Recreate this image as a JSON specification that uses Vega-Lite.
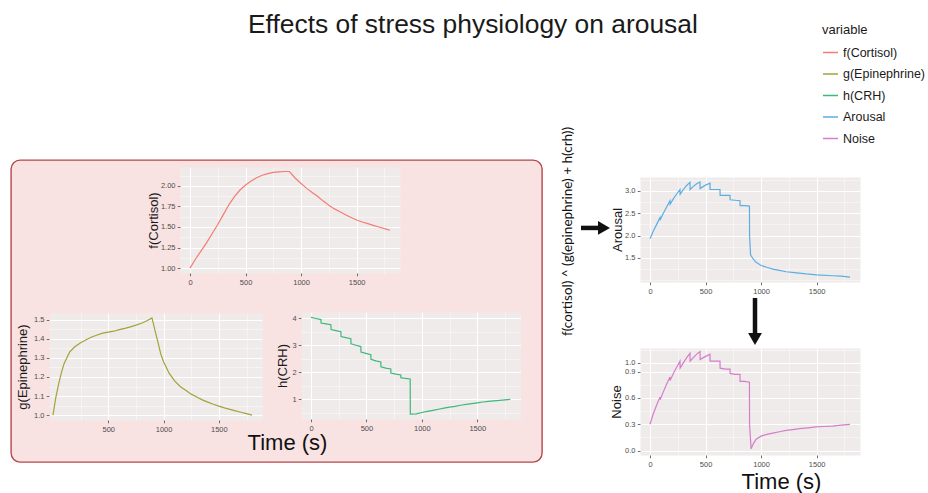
{
"$schema": "https://vega.github.io/schema/vega-lite/v6.json",
"width": 531, "height": 302,
"autosize": {"type": "none"},
"padding": {"left": 11, "top": 160, "right": 386, "bottom": 31},
"background": "#FFFFFF",
"view": {"fill": "#F9E2E2", "stroke": "#B5474B", "strokeWidth": 1.4, "cornerRadius": 9},
"title": {"text": "Effects of stress physiology on arousal", "anchor": "start", "frame": "group", "dx": 237, "offset": -14, "fontSize": 26.4, "font": "Liberation Sans", "fontWeight": "normal", "color": "#1A1A1A"},
"data": {"values": [
{"variable":"f(Cortisol)","t":0,"v":1.0},{"variable":"f(Cortisol)","t":50,"v":1.11},{"variable":"f(Cortisol)","t":100,"v":1.21},{"variable":"f(Cortisol)","t":150,"v":1.31},{"variable":"f(Cortisol)","t":200,"v":1.42},{"variable":"f(Cortisol)","t":250,"v":1.53},{"variable":"f(Cortisol)","t":300,"v":1.65},{"variable":"f(Cortisol)","t":350,"v":1.77},{"variable":"f(Cortisol)","t":400,"v":1.87},{"variable":"f(Cortisol)","t":450,"v":1.95},{"variable":"f(Cortisol)","t":500,"v":2.01},{"variable":"f(Cortisol)","t":550,"v":2.06},{"variable":"f(Cortisol)","t":600,"v":2.1},{"variable":"f(Cortisol)","t":650,"v":2.13},{"variable":"f(Cortisol)","t":700,"v":2.15},{"variable":"f(Cortisol)","t":750,"v":2.165},{"variable":"f(Cortisol)","t":800,"v":2.17},{"variable":"f(Cortisol)","t":850,"v":2.175},{"variable":"f(Cortisol)","t":895,"v":2.175},{"variable":"f(Cortisol)","t":950,"v":2.09},{"variable":"f(Cortisol)","t":1000,"v":2.03},{"variable":"f(Cortisol)","t":1050,"v":1.97},{"variable":"f(Cortisol)","t":1100,"v":1.92},{"variable":"f(Cortisol)","t":1150,"v":1.87},{"variable":"f(Cortisol)","t":1200,"v":1.815},{"variable":"f(Cortisol)","t":1250,"v":1.765},{"variable":"f(Cortisol)","t":1300,"v":1.72},{"variable":"f(Cortisol)","t":1350,"v":1.685},{"variable":"f(Cortisol)","t":1400,"v":1.65},{"variable":"f(Cortisol)","t":1450,"v":1.615},{"variable":"f(Cortisol)","t":1500,"v":1.585},{"variable":"f(Cortisol)","t":1550,"v":1.56},{"variable":"f(Cortisol)","t":1600,"v":1.54},{"variable":"f(Cortisol)","t":1650,"v":1.52},{"variable":"f(Cortisol)","t":1700,"v":1.5},{"variable":"f(Cortisol)","t":1750,"v":1.48},{"variable":"f(Cortisol)","t":1800,"v":1.46},
{"variable":"g(Epinephrine)","t":0,"v":1.0},{"variable":"g(Epinephrine)","t":25,"v":1.09},{"variable":"g(Epinephrine)","t":50,"v":1.16},{"variable":"g(Epinephrine)","t":75,"v":1.22},{"variable":"g(Epinephrine)","t":100,"v":1.27},{"variable":"g(Epinephrine)","t":150,"v":1.33},{"variable":"g(Epinephrine)","t":200,"v":1.36},{"variable":"g(Epinephrine)","t":250,"v":1.38},{"variable":"g(Epinephrine)","t":300,"v":1.395},{"variable":"g(Epinephrine)","t":350,"v":1.41},{"variable":"g(Epinephrine)","t":400,"v":1.42},{"variable":"g(Epinephrine)","t":450,"v":1.43},{"variable":"g(Epinephrine)","t":500,"v":1.435},{"variable":"g(Epinephrine)","t":550,"v":1.44},{"variable":"g(Epinephrine)","t":600,"v":1.448},{"variable":"g(Epinephrine)","t":650,"v":1.455},{"variable":"g(Epinephrine)","t":700,"v":1.463},{"variable":"g(Epinephrine)","t":750,"v":1.472},{"variable":"g(Epinephrine)","t":800,"v":1.482},{"variable":"g(Epinephrine)","t":850,"v":1.495},{"variable":"g(Epinephrine)","t":895,"v":1.51},{"variable":"g(Epinephrine)","t":920,"v":1.45},{"variable":"g(Epinephrine)","t":950,"v":1.38},{"variable":"g(Epinephrine)","t":975,"v":1.32},{"variable":"g(Epinephrine)","t":1000,"v":1.28},{"variable":"g(Epinephrine)","t":1050,"v":1.22},{"variable":"g(Epinephrine)","t":1100,"v":1.18},{"variable":"g(Epinephrine)","t":1150,"v":1.15},{"variable":"g(Epinephrine)","t":1200,"v":1.13},{"variable":"g(Epinephrine)","t":1250,"v":1.11},{"variable":"g(Epinephrine)","t":1300,"v":1.095},{"variable":"g(Epinephrine)","t":1350,"v":1.08},{"variable":"g(Epinephrine)","t":1400,"v":1.068},{"variable":"g(Epinephrine)","t":1450,"v":1.057},{"variable":"g(Epinephrine)","t":1500,"v":1.047},{"variable":"g(Epinephrine)","t":1550,"v":1.038},{"variable":"g(Epinephrine)","t":1600,"v":1.03},{"variable":"g(Epinephrine)","t":1650,"v":1.022},{"variable":"g(Epinephrine)","t":1700,"v":1.015},{"variable":"g(Epinephrine)","t":1750,"v":1.008},{"variable":"g(Epinephrine)","t":1800,"v":1.0},
{"variable":"h(CRH)","t":0,"v":4.03},{"variable":"h(CRH)","t":45,"v":3.99},{"variable":"h(CRH)","t":90,"v":3.95},{"variable":"h(CRH)","t":91,"v":3.82},{"variable":"h(CRH)","t":135,"v":3.79},{"variable":"h(CRH)","t":180,"v":3.76},{"variable":"h(CRH)","t":181,"v":3.58},{"variable":"h(CRH)","t":225,"v":3.54},{"variable":"h(CRH)","t":270,"v":3.5},{"variable":"h(CRH)","t":271,"v":3.32},{"variable":"h(CRH)","t":315,"v":3.28},{"variable":"h(CRH)","t":360,"v":3.24},{"variable":"h(CRH)","t":361,"v":3.05},{"variable":"h(CRH)","t":405,"v":3.0},{"variable":"h(CRH)","t":450,"v":2.95},{"variable":"h(CRH)","t":451,"v":2.75},{"variable":"h(CRH)","t":495,"v":2.7},{"variable":"h(CRH)","t":540,"v":2.65},{"variable":"h(CRH)","t":541,"v":2.48},{"variable":"h(CRH)","t":585,"v":2.42},{"variable":"h(CRH)","t":630,"v":2.38},{"variable":"h(CRH)","t":631,"v":2.2},{"variable":"h(CRH)","t":675,"v":2.15},{"variable":"h(CRH)","t":720,"v":2.12},{"variable":"h(CRH)","t":721,"v":1.97},{"variable":"h(CRH)","t":765,"v":1.93},{"variable":"h(CRH)","t":810,"v":1.9},{"variable":"h(CRH)","t":811,"v":1.8},{"variable":"h(CRH)","t":850,"v":1.77},{"variable":"h(CRH)","t":895,"v":1.75},{"variable":"h(CRH)","t":896,"v":0.45},{"variable":"h(CRH)","t":950,"v":0.46},{"variable":"h(CRH)","t":1000,"v":0.51},{"variable":"h(CRH)","t":1050,"v":0.55},{"variable":"h(CRH)","t":1100,"v":0.59},{"variable":"h(CRH)","t":1150,"v":0.63},{"variable":"h(CRH)","t":1200,"v":0.67},{"variable":"h(CRH)","t":1250,"v":0.71},{"variable":"h(CRH)","t":1300,"v":0.74},{"variable":"h(CRH)","t":1350,"v":0.78},{"variable":"h(CRH)","t":1400,"v":0.81},{"variable":"h(CRH)","t":1450,"v":0.84},{"variable":"h(CRH)","t":1500,"v":0.87},{"variable":"h(CRH)","t":1550,"v":0.9},{"variable":"h(CRH)","t":1600,"v":0.92},{"variable":"h(CRH)","t":1650,"v":0.94},{"variable":"h(CRH)","t":1700,"v":0.96},{"variable":"h(CRH)","t":1750,"v":0.98},{"variable":"h(CRH)","t":1800,"v":1.0},
{"variable":"Arousal","t":0,"v":1.93},{"variable":"Arousal","t":30,"v":2.1},{"variable":"Arousal","t":60,"v":2.25},{"variable":"Arousal","t":90,"v":2.4},{"variable":"Arousal","t":91,"v":2.35},{"variable":"Arousal","t":120,"v":2.5},{"variable":"Arousal","t":150,"v":2.64},{"variable":"Arousal","t":180,"v":2.78},{"variable":"Arousal","t":181,"v":2.7},{"variable":"Arousal","t":210,"v":2.82},{"variable":"Arousal","t":240,"v":2.93},{"variable":"Arousal","t":270,"v":3.03},{"variable":"Arousal","t":271,"v":2.92},{"variable":"Arousal","t":300,"v":3.03},{"variable":"Arousal","t":330,"v":3.12},{"variable":"Arousal","t":360,"v":3.19},{"variable":"Arousal","t":361,"v":3.03},{"variable":"Arousal","t":390,"v":3.1},{"variable":"Arousal","t":420,"v":3.16},{"variable":"Arousal","t":450,"v":3.2},{"variable":"Arousal","t":451,"v":3.05},{"variable":"Arousal","t":480,"v":3.1},{"variable":"Arousal","t":510,"v":3.14},{"variable":"Arousal","t":540,"v":3.17},{"variable":"Arousal","t":541,"v":3.03},{"variable":"Arousal","t":585,"v":3.03},{"variable":"Arousal","t":630,"v":3.03},{"variable":"Arousal","t":631,"v":2.9},{"variable":"Arousal","t":675,"v":2.9},{"variable":"Arousal","t":720,"v":2.9},{"variable":"Arousal","t":721,"v":2.8},{"variable":"Arousal","t":765,"v":2.79},{"variable":"Arousal","t":810,"v":2.78},{"variable":"Arousal","t":811,"v":2.67},{"variable":"Arousal","t":850,"v":2.67},{"variable":"Arousal","t":895,"v":2.66},{"variable":"Arousal","t":896,"v":2.0},{"variable":"Arousal","t":905,"v":1.57},{"variable":"Arousal","t":930,"v":1.47},{"variable":"Arousal","t":955,"v":1.4},{"variable":"Arousal","t":1000,"v":1.33},{"variable":"Arousal","t":1050,"v":1.29},{"variable":"Arousal","t":1105,"v":1.25},{"variable":"Arousal","t":1165,"v":1.22},{"variable":"Arousal","t":1225,"v":1.19},{"variable":"Arousal","t":1300,"v":1.17},{"variable":"Arousal","t":1405,"v":1.14},{"variable":"Arousal","t":1500,"v":1.12},{"variable":"Arousal","t":1645,"v":1.1},{"variable":"Arousal","t":1720,"v":1.09},{"variable":"Arousal","t":1800,"v":1.07},
{"variable":"Noise","t":0,"v":0.3},{"variable":"Noise","t":30,"v":0.42},{"variable":"Noise","t":60,"v":0.52},{"variable":"Noise","t":90,"v":0.61},{"variable":"Noise","t":91,"v":0.58},{"variable":"Noise","t":120,"v":0.67},{"variable":"Noise","t":150,"v":0.76},{"variable":"Noise","t":180,"v":0.84},{"variable":"Noise","t":181,"v":0.8},{"variable":"Noise","t":210,"v":0.88},{"variable":"Noise","t":240,"v":0.95},{"variable":"Noise","t":270,"v":1.02},{"variable":"Noise","t":271,"v":0.94},{"variable":"Noise","t":300,"v":1.0},{"variable":"Noise","t":330,"v":1.06},{"variable":"Noise","t":360,"v":1.11},{"variable":"Noise","t":361,"v":1.02},{"variable":"Noise","t":390,"v":1.06},{"variable":"Noise","t":420,"v":1.1},{"variable":"Noise","t":450,"v":1.13},{"variable":"Noise","t":451,"v":1.04},{"variable":"Noise","t":480,"v":1.06},{"variable":"Noise","t":510,"v":1.08},{"variable":"Noise","t":540,"v":1.1},{"variable":"Noise","t":541,"v":1.02},{"variable":"Noise","t":585,"v":1.02},{"variable":"Noise","t":630,"v":1.02},{"variable":"Noise","t":631,"v":0.94},{"variable":"Noise","t":675,"v":0.93},{"variable":"Noise","t":720,"v":0.93},{"variable":"Noise","t":721,"v":0.88},{"variable":"Noise","t":765,"v":0.87},{"variable":"Noise","t":810,"v":0.87},{"variable":"Noise","t":811,"v":0.79},{"variable":"Noise","t":850,"v":0.79},{"variable":"Noise","t":895,"v":0.78},{"variable":"Noise","t":896,"v":0.3},{"variable":"Noise","t":910,"v":0.02},{"variable":"Noise","t":930,"v":0.08},{"variable":"Noise","t":955,"v":0.13},{"variable":"Noise","t":1000,"v":0.165},{"variable":"Noise","t":1050,"v":0.185},{"variable":"Noise","t":1105,"v":0.2},{"variable":"Noise","t":1165,"v":0.215},{"variable":"Noise","t":1225,"v":0.23},{"variable":"Noise","t":1285,"v":0.24},{"variable":"Noise","t":1345,"v":0.25},{"variable":"Noise","t":1420,"v":0.26},{"variable":"Noise","t":1495,"v":0.27},{"variable":"Noise","t":1570,"v":0.275},{"variable":"Noise","t":1645,"v":0.28},{"variable":"Noise","t":1720,"v":0.29},{"variable":"Noise","t":1800,"v":0.3}
]},
"layer": [
 {"layer": [
  {"data": {"values": [{}]}, "mark": {"type": "point", "opacity": 0},
   "encoding": {
    "x": {"datum": 0.5, "type": "quantitative", "scale": {"domain": [0, 1], "range": [169, 389], "nice": false, "zero": false},
          "axis": {"orient": "top", "offset": -113, "values": [0.5], "grid": true, "gridWidth": 220, "gridColor": "#EFEBEA", "labels": false, "ticks": false, "domain": false, "title": null}},
    "y": {"datum": 1.5, "type": "quantitative", "scale": {"domain": [0.94, 2.23], "range": [113, 7], "nice": false, "zero": false},
          "axis": {"orient": "left", "offset": -169, "values": [1.125, 1.375, 1.625, 1.875, 2.125], "grid": true, "gridWidth": 0.55, "gridColor": "#FBF9F9", "labels": false, "ticks": false, "domain": false, "title": null}}}},
  {"data": {"values": [{}]}, "mark": {"type": "point", "opacity": 0},
   "encoding": {
    "x": {"datum": 0, "type": "quantitative", "scale": {"domain": [-90, 1890], "range": [169, 389], "nice": false, "zero": false},
          "axis": {"orient": "top", "offset": -113, "values": [250, 750, 1250, 1750], "grid": true, "gridWidth": 0.55, "gridColor": "#FBF9F9", "labels": false, "ticks": false, "domain": false, "title": null}},
    "y": {"datum": 1.5, "type": "quantitative", "scale": {"domain": [0.94, 2.23], "range": [113, 7], "nice": false, "zero": false}, "axis": null}}},
  {"transform": [{"filter": {"field": "variable", "equal": "f(Cortisol)"}}],
   "mark": {"type": "line", "strokeWidth": 1.2},
   "encoding": {
    "x": {"field": "t", "type": "quantitative", "scale": {"domain": [-90, 1890], "range": [169, 389], "nice": false, "zero": false},
          "axis": {"orient": "top", "offset": -113, "grid": true, "values": [0, 500, 1000, 1500], "format": "d", "title": null, "tickSize": -2.75, "labelPadding": -2.25, "labelBaseline": "top", "labelFlush": false}},
    "y": {"field": "v", "type": "quantitative", "scale": {"domain": [0.94, 2.23], "range": [113, 7], "nice": false, "zero": false},
          "axis": {"orient": "left", "offset": -169, "grid": true, "values": [1, 1.25, 1.5, 1.75, 2], "format": ".2f", "title": "f(Cortisol)", "titlePadding": 0}},
    "color": {"field": "variable", "type": "nominal", "scale": {"domain": ["f(Cortisol)", "g(Epinephrine)", "h(CRH)", "Arousal", "Noise"], "range": ["#F47C72", "#A5A23A", "#3DB87A", "#5BAEE3", "#D57DCB"]},
              "legend": {"title": "variable", "orient": "none", "legendX": 811, "legendY": -136, "symbolType": "stroke", "symbolSize": 225, "symbolStrokeWidth": 1.5, "rowPadding": 6.5, "labelOffset": 4, "padding": 0, "titlePadding": 7, "titleFontSize": 13, "titleFontWeight": "normal", "titleColor": "#1A1A1A", "titleFont": "Liberation Sans", "labelFontSize": 12.5, "labelFont": "Liberation Sans", "labelColor": "#1A1A1A"}}}}
 ],
 "resolve": {"scale": {"x": "independent", "y": "independent"}, "axis": {"x": "independent", "y": "independent"}}},
 {"layer": [
  {"data": {"values": [{}]}, "mark": {"type": "point", "opacity": 0},
   "encoding": {
    "x": {"datum": 0.5, "type": "quantitative", "scale": {"domain": [0, 1], "range": [38, 251], "nice": false, "zero": false},
          "axis": {"orient": "top", "offset": -260, "values": [0.5], "grid": true, "gridWidth": 213, "gridColor": "#EFEBEA", "labels": false, "ticks": false, "domain": false, "title": null}},
    "y": {"datum": 1.2, "type": "quantitative", "scale": {"domain": [0.9745, 1.5355], "range": [260, 153], "nice": false, "zero": false},
          "axis": {"orient": "left", "offset": -38, "values": [1.05, 1.15, 1.25, 1.35, 1.45], "grid": true, "gridWidth": 0.55, "gridColor": "#FBF9F9", "labels": false, "ticks": false, "domain": false, "title": null}}}},
  {"data": {"values": [{}]}, "mark": {"type": "point", "opacity": 0},
   "encoding": {
    "x": {"datum": 0, "type": "quantitative", "scale": {"domain": [-36, 1890], "range": [38, 251], "nice": false, "zero": false},
          "axis": {"orient": "top", "offset": -260, "values": [250, 750, 1250, 1750], "grid": true, "gridWidth": 0.55, "gridColor": "#FBF9F9", "labels": false, "ticks": false, "domain": false, "title": null}},
    "y": {"datum": 1.2, "type": "quantitative", "scale": {"domain": [0.9745, 1.5355], "range": [260, 153], "nice": false, "zero": false}, "axis": null}}},
  {"transform": [{"filter": {"field": "variable", "equal": "g(Epinephrine)"}}],
   "mark": {"type": "line", "strokeWidth": 1.2},
   "encoding": {
    "x": {"field": "t", "type": "quantitative", "scale": {"domain": [-36, 1890], "range": [38, 251], "nice": false, "zero": false},
          "axis": {"orient": "top", "offset": -260, "grid": true, "values": [500, 1000, 1500], "format": "d", "title": "Time (s)", "titleX": 276, "titleY": 29, "titleAngle": 0, "titleAlign": "center", "titleBaseline": "alphabetic", "titleFontSize": 22, "titleColor": "#111111", "tickSize": -2.75, "labelPadding": -2.25, "labelBaseline": "top", "labelFlush": false}},
    "y": {"field": "v", "type": "quantitative", "scale": {"domain": [0.9745, 1.5355], "range": [260, 153], "nice": false, "zero": false},
          "axis": {"orient": "left", "offset": -38, "grid": true, "values": [1.0, 1.1, 1.2, 1.3, 1.4, 1.5], "format": ".1f", "title": "g(Epinephrine)", "titlePadding": 4}},
    "color": {"field": "variable", "type": "nominal", "scale": {"domain": ["f(Cortisol)", "g(Epinephrine)", "h(CRH)", "Arousal", "Noise"], "range": ["#F47C72", "#A5A23A", "#3DB87A", "#5BAEE3", "#D57DCB"]},
              "legend": {"title": "variable", "orient": "none", "legendX": 811, "legendY": -136, "symbolType": "stroke", "symbolSize": 225, "symbolStrokeWidth": 1.5, "rowPadding": 6.5, "labelOffset": 4, "padding": 0, "titlePadding": 7, "titleFontSize": 13, "titleFontWeight": "normal", "titleColor": "#1A1A1A", "titleFont": "Liberation Sans", "labelFontSize": 12.5, "labelFont": "Liberation Sans", "labelColor": "#1A1A1A"}}}}
 ],
 "resolve": {"scale": {"x": "independent", "y": "independent"}, "axis": {"x": "independent", "y": "independent"}}},
 {"layer": [
  {"data": {"values": [{}]}, "mark": {"type": "point", "opacity": 0},
   "encoding": {
    "x": {"datum": 0.5, "type": "quantitative", "scale": {"domain": [0, 1], "range": [290, 509.5], "nice": false, "zero": false},
          "axis": {"orient": "top", "offset": -259, "values": [0.5], "grid": true, "gridWidth": 219.5, "gridColor": "#EFEBEA", "labels": false, "ticks": false, "domain": false, "title": null}},
    "y": {"datum": 2, "type": "quantitative", "scale": {"domain": [0.27, 4.23], "range": [259, 152], "nice": false, "zero": false},
          "axis": {"orient": "left", "offset": -290, "values": [0.5, 1.5, 2.5, 3.5], "grid": true, "gridWidth": 0.55, "gridColor": "#FBF9F9", "labels": false, "ticks": false, "domain": false, "title": null}}}},
  {"data": {"values": [{}]}, "mark": {"type": "point", "opacity": 0},
   "encoding": {
    "x": {"datum": 0, "type": "quantitative", "scale": {"domain": [-90, 1890], "range": [290, 509.5], "nice": false, "zero": false},
          "axis": {"orient": "top", "offset": -259, "values": [250, 750, 1250, 1750], "grid": true, "gridWidth": 0.55, "gridColor": "#FBF9F9", "labels": false, "ticks": false, "domain": false, "title": null}},
    "y": {"datum": 2, "type": "quantitative", "scale": {"domain": [0.27, 4.23], "range": [259, 152], "nice": false, "zero": false}, "axis": null}}},
  {"transform": [{"filter": {"field": "variable", "equal": "h(CRH)"}}],
   "mark": {"type": "line", "strokeWidth": 1.2},
   "encoding": {
    "x": {"field": "t", "type": "quantitative", "scale": {"domain": [-90, 1890], "range": [290, 509.5], "nice": false, "zero": false},
          "axis": {"orient": "top", "offset": -259, "grid": true, "values": [0, 500, 1000, 1500], "format": "d", "title": null, "tickSize": -2.75, "labelPadding": -2.25, "labelBaseline": "top", "labelFlush": false}},
    "y": {"field": "v", "type": "quantitative", "scale": {"domain": [0.27, 4.23], "range": [259, 152], "nice": false, "zero": false},
          "axis": {"orient": "left", "offset": -290, "grid": true, "values": [1, 2, 3, 4], "format": "d", "title": "h(CRH)", "titlePadding": 2}},
    "color": {"field": "variable", "type": "nominal", "scale": {"domain": ["f(Cortisol)", "g(Epinephrine)", "h(CRH)", "Arousal", "Noise"], "range": ["#F47C72", "#A5A23A", "#3DB87A", "#5BAEE3", "#D57DCB"]},
              "legend": {"title": "variable", "orient": "none", "legendX": 811, "legendY": -136, "symbolType": "stroke", "symbolSize": 225, "symbolStrokeWidth": 1.5, "rowPadding": 6.5, "labelOffset": 4, "padding": 0, "titlePadding": 7, "titleFontSize": 13, "titleFontWeight": "normal", "titleColor": "#1A1A1A", "titleFont": "Liberation Sans", "labelFontSize": 12.5, "labelFont": "Liberation Sans", "labelColor": "#1A1A1A"}}}}
 ],
 "resolve": {"scale": {"x": "independent", "y": "independent"}, "axis": {"x": "independent", "y": "independent"}}},
 {"layer": [
  {"data": {"values": [{}]}, "mark": {"type": "point", "opacity": 0},
   "encoding": {
    "x": {"datum": 0.5, "type": "quantitative", "scale": {"domain": [0, 1], "range": [629, 849], "nice": false, "zero": false},
          "axis": {"orient": "top", "offset": -122, "values": [0.5], "grid": true, "gridWidth": 220, "gridColor": "#EFEBEA", "labels": false, "ticks": false, "domain": false, "title": null}},
    "y": {"datum": 2, "type": "quantitative", "scale": {"domain": [0.96, 3.31], "range": [122, 17], "nice": false, "zero": false},
          "axis": {"orient": "left", "offset": -629, "values": [1.0, 1.25, 1.75, 2.25, 2.75, 3.25], "grid": true, "gridWidth": 0.55, "gridColor": "#FBF9F9", "labels": false, "ticks": false, "domain": false, "title": null}}}},
  {"data": {"values": [{}]}, "mark": {"type": "point", "opacity": 0},
   "encoding": {
    "x": {"datum": 0, "type": "quantitative", "scale": {"domain": [-90, 1890], "range": [629, 849], "nice": false, "zero": false},
          "axis": {"orient": "top", "offset": -122, "values": [250, 750, 1250, 1750], "grid": true, "gridWidth": 0.55, "gridColor": "#FBF9F9", "labels": false, "ticks": false, "domain": false, "title": null}},
    "y": {"datum": 2, "type": "quantitative", "scale": {"domain": [0.96, 3.31], "range": [122, 17], "nice": false, "zero": false}, "axis": null}}},
  {"transform": [{"filter": {"field": "variable", "equal": "Arousal"}}],
   "mark": {"type": "line", "strokeWidth": 1.2},
   "encoding": {
    "x": {"field": "t", "type": "quantitative", "scale": {"domain": [-90, 1890], "range": [629, 849], "nice": false, "zero": false},
          "axis": {"orient": "top", "offset": -122, "grid": true, "values": [0, 500, 1000, 1500], "format": "d", "title": null, "tickSize": -2.75, "labelPadding": -2.25, "labelBaseline": "top", "labelFlush": false}},
    "y": {"field": "v", "type": "quantitative", "scale": {"domain": [0.96, 3.31], "range": [122, 17], "nice": false, "zero": false},
          "axis": {"orient": "left", "offset": -629, "grid": true, "values": [1.5, 2.0, 2.5, 3.0], "format": ".1f", "title": "Arousal", "titlePadding": 0}},
    "color": {"field": "variable", "type": "nominal", "scale": {"domain": ["f(Cortisol)", "g(Epinephrine)", "h(CRH)", "Arousal", "Noise"], "range": ["#F47C72", "#A5A23A", "#3DB87A", "#5BAEE3", "#D57DCB"]},
              "legend": {"title": "variable", "orient": "none", "legendX": 811, "legendY": -136, "symbolType": "stroke", "symbolSize": 225, "symbolStrokeWidth": 1.5, "rowPadding": 6.5, "labelOffset": 4, "padding": 0, "titlePadding": 7, "titleFontSize": 13, "titleFontWeight": "normal", "titleColor": "#1A1A1A", "titleFont": "Liberation Sans", "labelFontSize": 12.5, "labelFont": "Liberation Sans", "labelColor": "#1A1A1A"}}}}
 ],
 "resolve": {"scale": {"x": "independent", "y": "independent"}, "axis": {"x": "independent", "y": "independent"}}},
 {"layer": [
  {"data": {"values": [{}]}, "mark": {"type": "point", "opacity": 0},
   "encoding": {
    "x": {"datum": 0.5, "type": "quantitative", "scale": {"domain": [0, 1], "range": [629, 849], "nice": false, "zero": false},
          "axis": {"orient": "top", "offset": -295, "values": [0.5], "grid": true, "gridWidth": 220, "gridColor": "#EFEBEA", "labels": false, "ticks": false, "domain": false, "title": null}},
    "y": {"datum": 0.5, "type": "quantitative", "scale": {"domain": [-0.05, 1.17], "range": [295, 188], "nice": false, "zero": false},
          "axis": {"orient": "left", "offset": -629, "values": [0.15, 0.45, 0.75, 1.15], "grid": true, "gridWidth": 0.55, "gridColor": "#FBF9F9", "labels": false, "ticks": false, "domain": false, "title": null}}}},
  {"data": {"values": [{}]}, "mark": {"type": "point", "opacity": 0},
   "encoding": {
    "x": {"datum": 0, "type": "quantitative", "scale": {"domain": [-90, 1890], "range": [629, 849], "nice": false, "zero": false},
          "axis": {"orient": "top", "offset": -295, "values": [250, 750, 1250, 1750], "grid": true, "gridWidth": 0.55, "gridColor": "#FBF9F9", "labels": false, "ticks": false, "domain": false, "title": null}},
    "y": {"datum": 0.5, "type": "quantitative", "scale": {"domain": [-0.05, 1.17], "range": [295, 188], "nice": false, "zero": false}, "axis": null}}},
  {"transform": [{"filter": {"field": "variable", "equal": "Noise"}}],
   "mark": {"type": "line", "strokeWidth": 1.2},
   "encoding": {
    "x": {"field": "t", "type": "quantitative", "scale": {"domain": [-90, 1890], "range": [629, 849], "nice": false, "zero": false},
          "axis": {"orient": "top", "offset": -295, "grid": true, "values": [0, 500, 1000, 1500], "format": "d", "title": "Time (s)", "titleX": 770, "titleY": 33, "titleAngle": 0, "titleAlign": "center", "titleBaseline": "alphabetic", "titleFontSize": 22, "titleColor": "#111111", "tickSize": -2.75, "labelPadding": -2.25, "labelBaseline": "top", "labelFlush": false}},
    "y": {"field": "v", "type": "quantitative", "scale": {"domain": [-0.05, 1.17], "range": [295, 188], "nice": false, "zero": false},
          "axis": {"orient": "left", "offset": -629, "grid": true, "values": [0.0, 0.3, 0.6, 0.9, 1.0], "format": ".1f", "title": "Noise", "titlePadding": 1}},
    "color": {"field": "variable", "type": "nominal", "scale": {"domain": ["f(Cortisol)", "g(Epinephrine)", "h(CRH)", "Arousal", "Noise"], "range": ["#F47C72", "#A5A23A", "#3DB87A", "#5BAEE3", "#D57DCB"]},
              "legend": {"title": "variable", "orient": "none", "legendX": 811, "legendY": -136, "symbolType": "stroke", "symbolSize": 225, "symbolStrokeWidth": 1.5, "rowPadding": 6.5, "labelOffset": 4, "padding": 0, "titlePadding": 7, "titleFontSize": 13, "titleFontWeight": "normal", "titleColor": "#1A1A1A", "titleFont": "Liberation Sans", "labelFontSize": 12.5, "labelFont": "Liberation Sans", "labelColor": "#1A1A1A"}}}}
 ],
 "resolve": {"scale": {"x": "independent", "y": "independent"}, "axis": {"x": "independent", "y": "independent"}}},
 {"layer": [
  {"data": {"values": [{}]}, "mark": {"type": "text", "text": "f(cortisol) ^ (g(epinephrine) + h(crh))", "angle": 270, "font": "Lato", "fontSize": 13.5, "color": "#111111"},
   "encoding": {"x": {"datum": -738, "type": "quantitative", "scale": {"domain": [-90, 1890], "range": [629, 849], "nice": false, "zero": false}, "axis": null},
                "y": {"datum": 2.09, "type": "quantitative", "scale": {"domain": [0.96, 3.31], "range": [122, 17], "nice": false, "zero": false}, "axis": null}}},
  {"data": {"values": [{}]}, "mark": {"type": "rule", "strokeWidth": 4.5, "color": "#111111"},
   "encoding": {"x": {"datum": -621, "type": "quantitative", "axis": null}, "x2": {"datum": -450}, "y": {"datum": 2.17, "type": "quantitative", "axis": null}}},
  {"data": {"values": [{}]}, "mark": {"type": "point", "shape": "triangle-right", "filled": true, "size": 190, "color": "#111111", "opacity": 1},
   "encoding": {"x": {"datum": -414, "type": "quantitative", "axis": null}, "y": {"datum": 2.17, "type": "quantitative", "axis": null}}},
  {"data": {"values": [{}]}, "mark": {"type": "rule", "strokeWidth": 4.5, "color": "#111111"},
   "encoding": {"x": {"datum": 945, "type": "quantitative", "axis": null}, "y": {"datum": 0.602, "type": "quantitative", "axis": null}, "y2": {"datum": -0.181}}},
  {"data": {"values": [{}]}, "mark": {"type": "point", "shape": "triangle-down", "filled": true, "size": 190, "color": "#111111", "opacity": 1},
   "encoding": {"x": {"datum": 945, "type": "quantitative", "axis": null}, "y": {"datum": -0.316, "type": "quantitative", "axis": null}}}
 ]}
],
"resolve": {"scale": {"x": "independent", "y": "independent"}, "axis": {"x": "independent", "y": "independent"}},
"config": {
 "font": "Liberation Sans",
 "axis": {"domain": false, "grid": true, "gridColor": "#FFFFFF", "gridWidth": 1.1, "gridOpacity": 1, "tickColor": "#4D4D4D", "tickSize": 2.75, "tickWidth": 0.8, "labelColor": "#4D4D4D", "labelFont": "Liberation Sans", "labelFontSize": 7.5, "labelPadding": 2.2, "labelOverlap": false, "labelFlush": false, "titleFont": "Liberation Sans", "titleFontSize": 13, "titleFontWeight": "normal", "titleColor": "#1A1A1A", "titlePadding": 4}
}
}
